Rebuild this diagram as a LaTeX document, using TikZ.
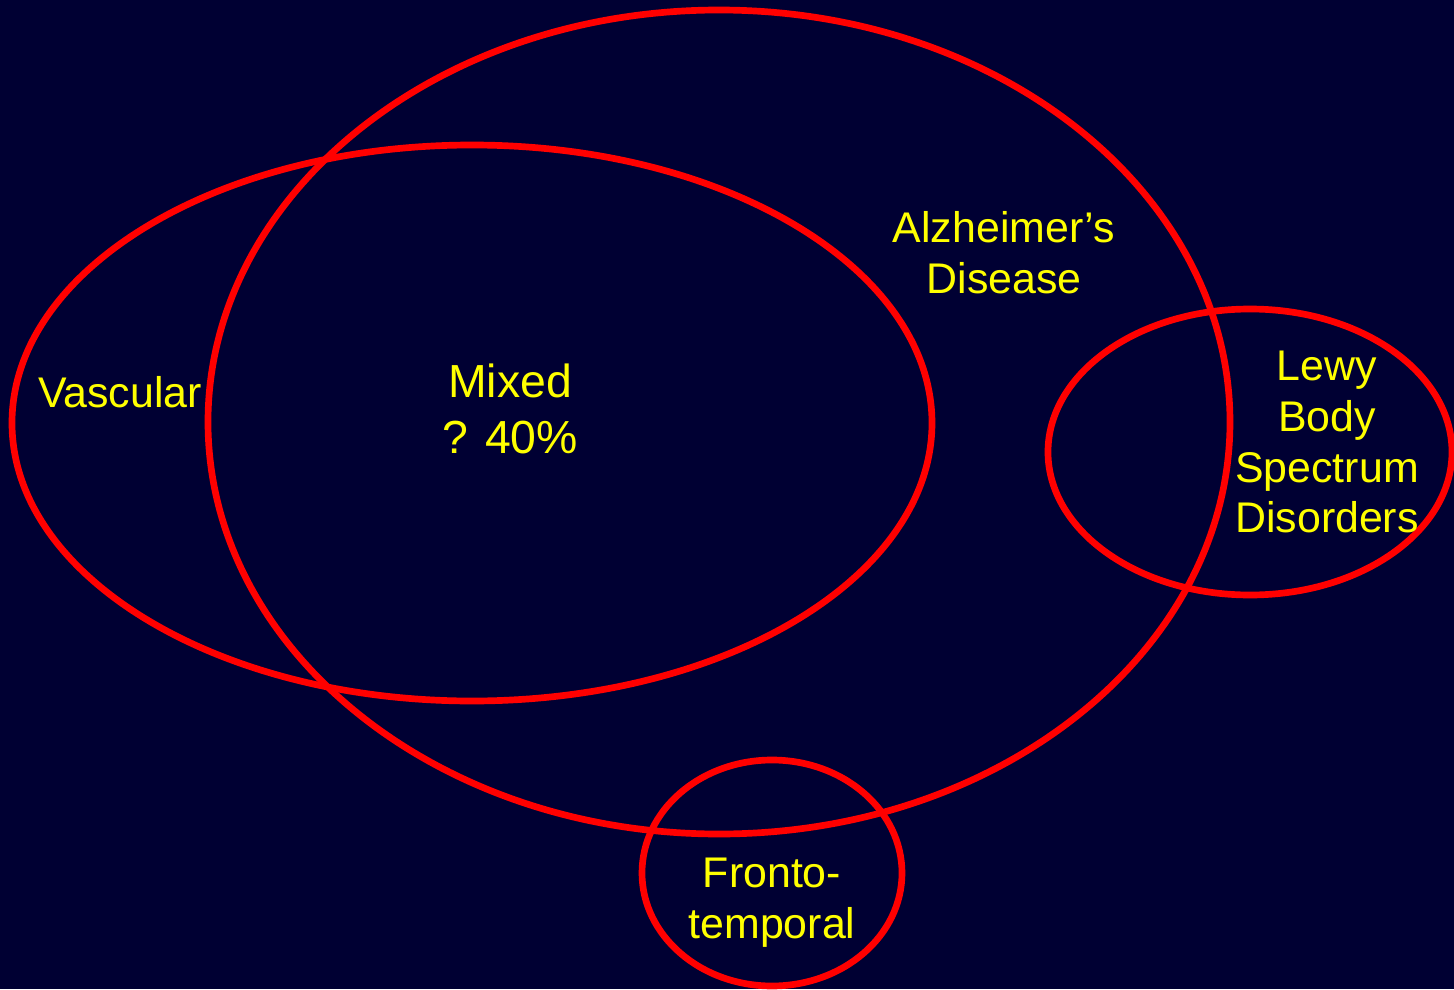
\documentclass[tikz,border=0pt]{standalone}
\usepackage{fontspec}
\setmainfont{Liberation Sans}
\usetikzlibrary{shapes.geometric}
\definecolor{navybg}{HTML}{000033}
\definecolor{setred}{HTML}{FF0000}
\definecolor{labelyellow}{HTML}{FFFF00}

\begin{document}
\begin{tikzpicture}[
    set/.style={ellipse, draw=setred, line width=1.9pt, inner sep=0pt},
    setlabel/.style={text=labelyellow, align=center,
          font=\fontsize{12.2pt}{14.5pt}\selectfont}]
    \fill[navybg] (0,0) rectangle (14.54,9.89);
    \useasboundingbox (0,0) rectangle (14.54,9.89);
    % the four sets
    \node[set,
          minimum width=10.22cm,
          minimum height=8.24cm] (alz) at (7.19,5.67) {};
    \node[set,
          minimum width=9.20cm,
          minimum height=5.56cm] (mixed) at (4.72,5.66) {};
    \node[set,
          minimum width=4.04cm,
          minimum height=2.86cm] (lewy) at (12.50,5.37) {};
    \node[set,
          minimum width=2.60cm,
          minimum height=2.26cm] (fronto) at (7.72,1.16) {};
    % labels
    \node[setlabel] (vascular) at (1.20,5.97) {Vascular};
    \node[setlabel,
          font=\fontsize{13.2pt}{16pt}\selectfont] (mixedlbl) at (5.10,5.80) {Mixed\\? 40\%};
    \node[setlabel] (alzlbl) at (10.04,7.36) {Alzheimer’s\\Disease};
    \node[setlabel] (lewylbl) at (13.27,5.47) {Lewy\\Body\\Spectrum\\Disorders};
    \node[setlabel] (frontolbl) at (7.72,0.86) {Fronto-\\temporal};
\end{tikzpicture}
\end{document}
